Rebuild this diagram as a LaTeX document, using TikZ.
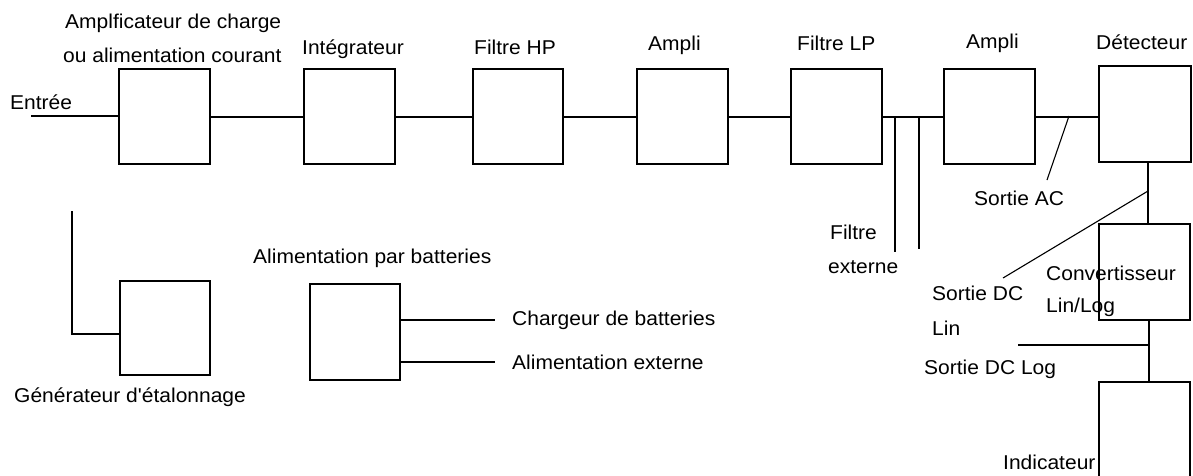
\documentclass[tikz,border=0pt]{standalone}
\usepackage{fontspec}
\newfontfamily\labfont{Liberation Sans}[FakeStretch=1.05]
\begin{document}
\begin{tikzpicture}[x=1pt,y=-1pt,
  blk/.style={draw,line width=2pt,minimum width=91pt,minimum height=95pt,inner sep=0pt},
  wire/.style={line width=2pt},
  thinwire/.style={line width=1.1pt},
  lab/.style={anchor=west,inner sep=0pt,font=\labfont\fontsize{20}{22}\selectfont}]
\useasboundingbox[fill=white] (0,0) rectangle (1193,475);
% blocks
\node[blk] (amp) at (164.5,116.5) {};
\node[blk] (integ) at (349.5,116.5) {};
\node[blk,minimum width=90pt] (hp) at (518,116.5) {};
\node[blk] (ampa) at (682.5,116.5) {};
\node[blk] (lp) at (836.5,116.5) {};
\node[blk] (ampb) at (989.5,116.5) {};
\node[blk,minimum width=92pt,minimum height=96pt] (det) at (1145,114) {};
\node[blk,minimum height=96pt] (conv) at (1144.5,272) {};
\node[blk,minimum height=96pt] (ind) at (1144.5,430) {};
\node[blk,minimum width=90pt,minimum height=94pt] (gen) at (165,328) {};
\node[blk,minimum width=90pt,minimum height=96pt] (bat) at (355,332) {};
% coordinates
\coordinate (in) at (31,116);
\coordinate (fx1) at (895,116);
\coordinate (fx1e) at (895,252);
\coordinate (fx2) at (919,116);
\coordinate (fx2e) at (919,249);
\coordinate (acs) at (1069,116);
\coordinate (ace) at (1047,180);
\coordinate (dcs) at (1148,191);
\coordinate (dce) at (1003,278);
\coordinate (logs) at (1149,345);
\coordinate (loge) at (1018,345);
\coordinate (gtop) at (72,211);
\coordinate (gcor) at (72,334);
\coordinate (ch) at (495,320);
\coordinate (ae) at (495,362);
% connectors
\draw[wire] (in) -- (in -| amp.west);
\draw[wire] (amp.east) -- (integ.west);
\draw[wire] (integ.east) -- (hp.west);
\draw[wire] (hp.east) -- (ampa.west);
\draw[wire] (ampa.east) -- (lp.west);
\draw[wire] (lp.east) -- (ampb.west);
\draw[wire] (ampb.east) -- (ampb.east -| det.west);
\draw[wire] (fx1) -- (fx1e);
\draw[wire] (fx2) -- (fx2e);
\draw[thinwire] (acs) -- (ace);
\draw[wire] (det.south -| dcs) -- (conv.north -| dcs);
\draw[thinwire] (dcs) -- (dce);
\draw[wire] (conv.south -| logs) -- (ind.north -| logs);
\draw[wire] (logs) -- (loge);
\draw[wire] (gtop) -- (gcor) -- (gcor -| gen.west);
\draw[wire] (ch -| bat.east) -- (ch);
\draw[wire] (ae -| bat.east) -- (ae);
% labels
\node[lab] (t1) at (65,23) {Amplficateur de charge};
\node[lab] (t2) at (63,55) {ou alimentation courant};
\node[lab] (t3) at (10,102) {Entrée};
\node[lab] (t4) at (302,49) {Intégrateur};
\node[lab] (t5) at (474,47) {Filtre HP};
\node[lab] (t6) at (648,45) {Ampli};
\node[lab] (t7) at (797,43) {Filtre LP};
\node[lab] (t8) at (966,43) {Ampli};
\node[lab] (t9) at (1096,42) {Détecteur};
\node[lab] (t10) at (974,198) {Sortie AC};
\node[lab] (t11) at (830,232) {Filtre};
\node[lab] (t12) at (828,267) {externe};
\node[lab] (t13) at (932,293) {Sortie DC};
\node[lab] (t14) at (932,328) {Lin};
\node[lab] (t15) at (1046,273) {Convertisseur};
\node[lab] (t16) at (1046,307) {Lin/Log};
\node[lab] (t17) at (924,369) {Sortie DC Log};
\node[lab] (t18) at (1003,462) {Indicateur};
\node[lab] (t19) at (253,258) {Alimentation par batteries};
\node[lab] (t20) at (512,320) {Chargeur de batteries};
\node[lab] (t21) at (512,362) {Alimentation externe};
\node[lab] (t22) at (14,397) {Générateur d'étalonnage};
\end{tikzpicture}
\end{document}
